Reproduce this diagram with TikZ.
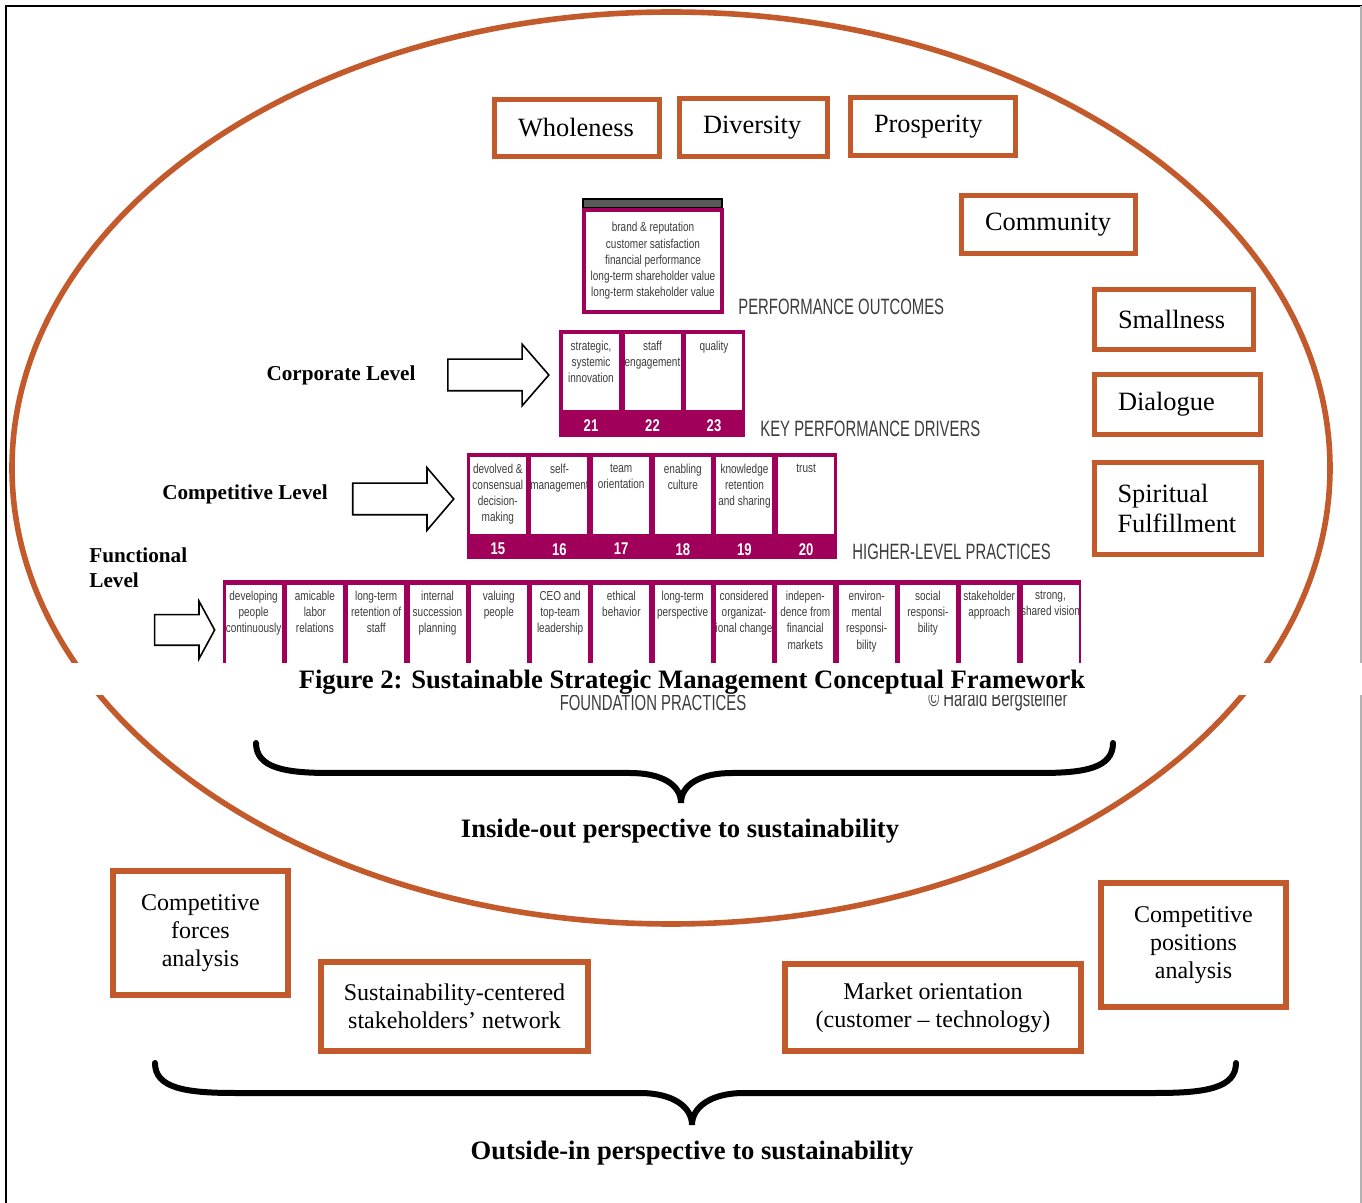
\documentclass[tikz,border=0pt]{standalone}
\usepackage{fontspec}
\setmainfont{Liberation Serif}
\newfontfamily\cellfont[FakeStretch=0.77]{Liberation Sans}
\newfontfamily\tierfont[FakeStretch=0.67]{Liberation Sans}
\usetikzlibrary{shapes.arrows, positioning}
\definecolor{corange}{HTML}{C25A2C}
\definecolor{cmagenta}{HTML}{A0005A}
\definecolor{cgreytext}{HTML}{3C3C3C}
\tikzset{
  valuebox/.style={draw=corange, line width=2.6pt, align=left, inner xsep=11.7pt, inner ysep=0pt, font=\fontsize{13.2}{15}\selectfont},
  lensbox/.style={draw=corange, line width=2.8pt, align=center, inner sep=0pt, font=\fontsize{12}{14}\selectfont},
  levelarrow/.style={draw, line width=0.8pt, fill=white, single arrow, inner xsep=0pt},
  levellabel/.style={font=\bfseries\fontsize{10.6}{12.5}\selectfont, align=left, inner sep=0pt},
  cell/.style={fill=white, minimum width=28pt, inner sep=0pt},
  celltext/.style={font=\cellfont\fontsize{6.5}{8.1}\selectfont, text=cgreytext, align=center, inner sep=0pt},
  num/.style={font=\cellfont\bfseries\fontsize{8.5}{10}\selectfont, text=white, inner sep=0pt},
  tier/.style={font=\tierfont\fontsize{11.1}{13}\selectfont, text=cgreytext, anchor=west, inner sep=0pt},
  bracepath/.style={line width=3pt, line cap=round},
  heading/.style={font=\bfseries\fontsize{13.3}{15}\selectfont},
}
\begin{document}
\begin{tikzpicture}[x=0.5pt, y=-0.5pt]
  \useasboundingbox (0,0) rectangle (1362,1203);
  % frame and the big ellipse
  \draw[line width=1.1pt] (6,1203) -- (6,6) -- (1362,6);
  \draw[gray!60, line width=0.8pt] (1361,6) -- (1361,1203);
  \draw[corange, line width=2.8pt] (671,468) ellipse [x radius=329.5pt, y radius=228pt];

  % performance outcomes
  \filldraw[fill=gray!70!black, draw=black, line width=0.6pt] (583,199) rectangle (722,208);
  \fill[cmagenta] (582,208) rectangle (724,314);
  \node[cell, minimum width=67pt, minimum height=49pt] (po) at (653,261) {};
  \node[celltext] at (po) {brand \& reputation\\customer satisfaction\\financial performance\\long-term shareholder value\\long-term stakeholder value};
  \node[tier] (po-label) at (738,307) {PERFORMANCE OUTCOMES};

  % key performance drivers
  \fill[cmagenta] (559,330) rectangle (745,437);
  \foreach \txt [count=\i from 21] in {{strategic,\\systemic\\innovation}, staff\\engagement, quality} {
    \node[cell, minimum height=38pt] (d\i) at ({591+61.5*(\i-21)}, 372) {};
    \node[celltext, below=3.3pt of d\i.north] {\txt};
    \node[num, below=4.2pt of d\i] {\i};
  }
  \node[tier] (kpd-label) at (760,429) {KEY PERFORMANCE DRIVERS};

  % higher-level practices
  \fill[cmagenta] (467,453) rectangle (837,559);
  \foreach \txt [count=\i from 15] in {devolved \&\\consensual\\decision-\\making, self-\\management, team\\orientation, enabling\\culture, knowledge\\retention\\and sharing, trust} {
    \node[cell, minimum height=38.5pt] (h\i) at ({497.8+61.67*(\i-15)}, 495.5) {};
    \node[celltext, below=3.3pt of h\i.north] {\txt};
    \node[num, below=4.2pt of h\i] {\i};
  }
  \node[tier] (hlp-label) at (852,552) {HIGHER-LEVEL PRACTICES};

  % foundation practices
  \fill[cmagenta] (223,580) rectangle (1081,690);
  \foreach \txt [count=\i] in {developing\\people\\continuously, amicable\\labor\\relations, long-term\\retention of\\staff, internal\\succession\\planning, valuing\\people, CEO and\\top-team\\leadership, ethical\\behavior, long-term\\perspective, considered\\organizat-\\ional change, indepen-\\dence from\\financial\\markets, environ-\\mental\\responsi-\\bility, social\\responsi-\\bility, stakeholder\\approach, {strong,\\shared vision}} {
    \node[cell, minimum height=52.5pt] (f\i) at ({253.6+61.3*(\i-1)}, 637.5) {};
    \node[celltext, below=3pt of f\i.north] {\txt};
  }
  \node[tier, anchor=center] (fp-label) at (653,703) {FOUNDATION PRACTICES};
  \node[tier] (copyright) at (928,701) {© Harald Bergsteiner};

  % level labels and their arrows
  \node[levellabel] (corporate) at (341,375) {Corporate Level};
  \node[levelarrow, minimum height=50.5pt, inner ysep=7.5pt, single arrow head extend=7.5pt, single arrow tip angle=98] (corporate-arrow) at (491.5,375) {};
  \node[levellabel] (competitive) at (245,494) {Competitive Level};
  \node[levelarrow, minimum height=50.5pt, inner ysep=7.5pt, single arrow head extend=7.75pt, single arrow tip angle=99] (competitive-arrow) at (396.5,499) {};
  \node[levellabel, anchor=west] (functional) at (89,568) {Functional\\Level};
  \node[levelarrow, minimum height=30pt, inner ysep=7.25pt, single arrow head extend=6.75pt, single arrow tip angle=123] (functional-arrow) at (180.5,630) {};

  % caption strip
  \fill[white] (14,663) rectangle (1362,695);
  \node[heading] (caption) at (692,682) {Figure 2: Sustainable Strategic Management Conceptual Framework};

  % values inside the ellipse
  \foreach \name/\txt/\x/\y/\w/\h in {wholeness/Wholeness/577/128/59/28.5, diversity/Diversity/753.5/127.5/50.5/29, prosperity/Prosperity/933/126.5/59/29, community/Community/1048.5/224.5/63.5/29, smallness/Smallness/1174/319.5/56/30, dialogue/Dialogue/1177.5/404.5/59.5/30, spiritual/Spiritual\\Fulfillment/1177.5/508.5/60/46} {
    \node[valuebox, text width=\w pt, minimum height=\h pt] (\name) at (\x,\y) {\txt};
  }

  % outside-in boxes
  \foreach \name/\txt/\x/\y/\w/\h in {forces/Competitive\\forces\\analysis/200.5/933/87.7/62.2, network/Sustainability-centered\\stakeholders’ network/454.5/1006.5/133.7/44.7, market/Market orientation\\(customer – technology)/933/1007.5/148.2/43.7, positions/Competitive\\positions\\analysis/1193.5/945/92.7/62.2} {
    \node[lensbox, minimum width=\w pt, minimum height=\h pt] (\name) at (\x,\y) {\txt};
  }

  % braces
  \coordinate (in-l) at (256,743);
  \coordinate (in-t) at (681,803);
  \coordinate (in-r) at (1113,743);
  \draw[bracepath] (in-l) .. controls (256,768) and (285,773) .. (330,773) -- (630,773)
    .. controls (662,773) and (681,785) .. (in-t)
    .. controls (681,785) and (700,773) .. (732,773) -- (1040,773)
    .. controls (1085,773) and (1113,768) .. (in-r);
  \node[heading] (inside-out) at (680,831) {Inside-out perspective to sustainability};

  \coordinate (out-l) at (155,1063);
  \coordinate (out-t) at (692,1125);
  \coordinate (out-r) at (1236,1063);
  \draw[bracepath] (out-l) .. controls (155,1088) and (185,1093) .. (235,1093) -- (640,1093)
    .. controls (673,1093) and (692,1107) .. (out-t)
    .. controls (692,1107) and (711,1093) .. (744,1093) -- (1156,1093)
    .. controls (1206,1093) and (1236,1088) .. (out-r);
  \node[heading] (outside-in) at (692,1153) {Outside-in perspective to sustainability};
\end{tikzpicture}
\end{document}
